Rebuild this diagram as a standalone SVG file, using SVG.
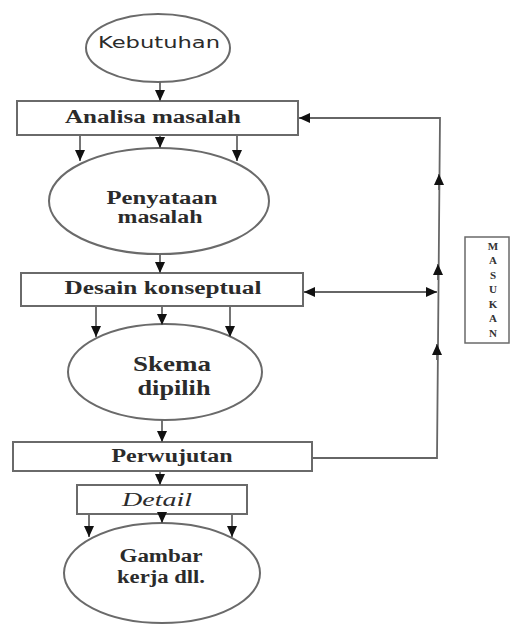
<svg xmlns="http://www.w3.org/2000/svg" width="511" height="624" viewBox="0 0 511 624">
<defs>
<marker id="ah" markerUnits="userSpaceOnUse" markerWidth="12" markerHeight="10" refX="11" refY="5" orient="auto">
<path d="M0,0 L11,5 L0,10 z" fill="#111"/>
</marker>
<marker id="ahs" markerUnits="userSpaceOnUse" markerWidth="12" markerHeight="10" refX="1" refY="5" orient="auto">
<path d="M12,0 L1,5 L12,10 z" fill="#111"/>
</marker>
</defs>
<style>
.node ellipse, .node rect { fill: #fff; stroke: #6a6a6a; stroke-width: 2; }
.t { font-family: "Liberation Serif", "DejaVu Serif", "Times New Roman", Times, serif; font-size: 18px; fill: #2b2b2b; font-weight: bold; text-anchor: middle; }
.big { font-size: 21px; }
.it { font-style: italic; font-weight: normal; }
.s { font-family: "DejaVu Sans", "Liberation Sans", sans-serif; font-size: 15px; fill: #2b2b2b; text-anchor: middle; }
.c line, .c path { stroke: #666; stroke-width: 1.8; fill: none; }
.a { marker-end: url(#ah); }
.m { font-family: "Liberation Serif", "DejaVu Serif", serif; font-size: 11px; fill: #333; font-weight: bold; text-anchor: middle; }
</style>

<g id="kebutuhan" class="node">
<ellipse cx="158" cy="48" rx="72" ry="34"/>
<text class="s" x="159" y="48" textLength="122" lengthAdjust="spacingAndGlyphs">Kebutuhan</text>
</g>
<g id="analisa" class="node">
<rect x="17" y="101" width="281" height="34"/>
<text class="t" x="153" y="123" textLength="176" lengthAdjust="spacingAndGlyphs">Analisa masalah</text>
</g>
<g id="penyataan" class="node">
<ellipse cx="159" cy="201" rx="110" ry="53"/>
<text class="t" x="162" y="204" textLength="111" lengthAdjust="spacingAndGlyphs">Penyataan</text>
<text class="t" x="160" y="223" textLength="85" lengthAdjust="spacingAndGlyphs">masalah</text>
</g>
<g id="desain" class="node">
<rect x="21" y="273" width="282" height="33"/>
<text class="t" x="163" y="294" textLength="197" lengthAdjust="spacingAndGlyphs">Desain konseptual</text>
</g>
<g id="skema" class="node">
<ellipse cx="165" cy="372" rx="97" ry="48"/>
<text class="t big" x="172" y="371" textLength="78" lengthAdjust="spacingAndGlyphs">Skema</text>
<text class="t big" x="174" y="395" textLength="73" lengthAdjust="spacingAndGlyphs">dipilih</text>
</g>
<g id="perwujutan" class="node">
<rect x="13" y="442" width="299" height="29"/>
<text class="t" x="172" y="462" textLength="121" lengthAdjust="spacingAndGlyphs">Perwujutan</text>
</g>
<g id="detail" class="node">
<rect x="77" y="485" width="170" height="29"/>
<text class="t it" x="157" y="506" textLength="70" lengthAdjust="spacingAndGlyphs">Detail</text>
</g>
<g id="gambar" class="node">
<ellipse cx="162" cy="573" rx="98" ry="50"/>
<text class="t" x="161" y="562" textLength="83" lengthAdjust="spacingAndGlyphs">Gambar</text>
<text class="t" x="161" y="583" textLength="88" lengthAdjust="spacingAndGlyphs">kerja dll.</text>
</g>
<g id="masukan" class="node">
<rect x="465" y="237" width="44" height="106" style="stroke-width:1.5"/>
<text class="m" x="493" y="250">M</text>
<text class="m" x="493" y="264">A</text>
<text class="m" x="493" y="279">S</text>
<text class="m" x="493" y="293">U</text>
<text class="m" x="493" y="308">K</text>
<text class="m" x="493" y="322">A</text>
<text class="m" x="493" y="337">N</text>
</g>

<g id="connectors" class="c">
<line class="a" x1="160" y1="82" x2="160" y2="101"/>
<line class="a" x1="80" y1="136" x2="80" y2="161"/>
<line class="a" x1="160" y1="136" x2="160" y2="148"/>
<line class="a" x1="237" y1="136" x2="237" y2="161"/>
<line class="a" x1="160" y1="254" x2="160" y2="273"/>
<line class="a" x1="96" y1="307" x2="96" y2="337"/>
<line class="a" x1="162" y1="307" x2="162" y2="325"/>
<line class="a" x1="230" y1="307" x2="230" y2="337"/>
<line class="a" x1="162" y1="420" x2="162" y2="442"/>
<line class="a" x1="160" y1="471" x2="160" y2="485"/>
<line class="a" x1="89" y1="515" x2="89" y2="537"/>
<line class="a" x1="162" y1="515" x2="162" y2="523"/>
<line class="a" x1="232" y1="515" x2="232" y2="537"/>
<path class="a" d="M312,458 L437,458 L440,118 L299,118"/>
<line x1="304" y1="292" x2="437" y2="292" style="marker-start:url(#ahs);marker-end:url(#ah)"/>
<line class="a" x1="439" y1="190" x2="439" y2="174"/>
<line class="a" x1="438" y1="280" x2="438" y2="264"/>
<line class="a" x1="437" y1="360" x2="437" y2="344"/>
</g>
</svg>
